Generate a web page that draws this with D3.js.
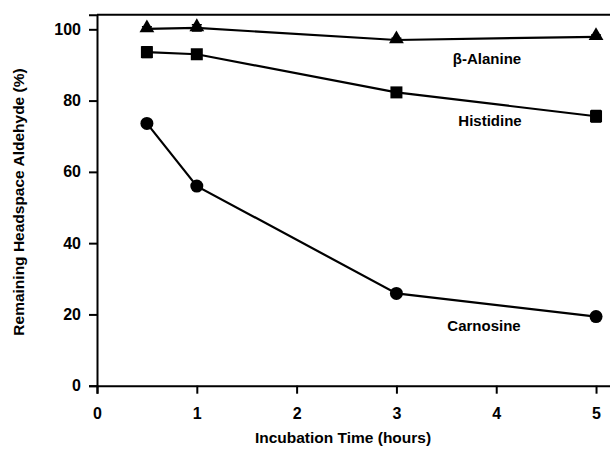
<!DOCTYPE html>
<html>
<head>
<meta charset="utf-8">
<script src="https://cdn.jsdelivr.net/npm/d3@7"></script>
<style>
body { margin: 0; background: #fff; }
text { font-family: "Liberation Sans", Arial, sans-serif; font-weight: bold; fill: #000; }
</style>
</head>
<body>
<div id="chart"></div>
<script>
var times = [0.5, 1, 3, 5];
var alanine = [100.1, 100.4, 97.0, 97.9];
var alanineErr = [0.6, 0.9, 0.5, 0.5];
var histidine = [93.6, 93.0, 82.3, 75.6];
var histidineErr = [1.5, 0.6, 0.6, 1.6];
var carnosine = [73.6, 56.0, 25.9, 19.4];
var carnosineErr = [0.5, 0.5, 0.5, 0.5];
var xTicks = [0, 1, 2, 3, 4, 5];
var yTicks = [0, 20, 40, 60, 80, 100];

var series = [
    {name: "\u03b2-Alanine", values: alanine, err: alanineErr, shape: "triangle", lx: 487, ly: 59},
    {name: "Histidine", values: histidine, err: histidineErr, shape: "square", lx: 490, ly: 121},
    {name: "Carnosine", values: carnosine, err: carnosineErr, shape: "circle", lx: 484, ly: 326}
];

var width = 610, height = 462;

var x = d3.scaleLinear().domain([0, 5.16]).range([97, 612]);
var y = d3.scaleLinear().domain([0, 104.1]).range([385.7, 14.7]);

var svg = d3.select("#chart").append("svg")
    .attr("width", width)
    .attr("height", height);

// frame: top and left edges (right edge falls off the picture)
svg.append("line")
    .attr("x1", x(0)).attr("x2", x(5.16))
    .attr("y1", y(104.1)).attr("y2", y(104.1))
    .attr("stroke", "#000").attr("stroke-width", 2);

var xAxis = svg.append("g")
    .attr("transform", "translate(0," + y(0) + ")")
    .call(d3.axisBottom(x).tickValues(xTicks).tickFormat(d3.format("d")).tickSize(8).tickPadding(14));

var yAxis = svg.append("g")
    .attr("transform", "translate(" + x(0) + ",0)")
    .call(d3.axisLeft(y).tickValues(yTicks).tickFormat(d3.format("d")).tickSize(8).tickPadding(8));

[xAxis, yAxis].forEach(function (g) {
    g.select(".domain").attr("stroke-width", 2);
    g.selectAll(".tick line").attr("stroke-width", 2);
    g.selectAll(".tick text").attr("font-size", 16).attr("font-family", "Liberation Sans, Arial, sans-serif").attr("font-weight", "bold");
});

var line = d3.line()
    .x(function (d, i) { return x(times[i]); })
    .y(function (d) { return y(d); });

var tri = d3.symbol().type(d3.symbolTriangle).size(95);

series.forEach(function (s) {
    svg.append("path")
        .datum(s.values)
        .attr("fill", "none")
        .attr("stroke", "#000")
        .attr("stroke-width", 2.2)
        .attr("d", line);

    var pts = svg.append("g").selectAll("g")
        .data(s.values)
        .enter().append("g")
        .attr("transform", function (d, i) {
            return "translate(" + x(times[i]) + "," + y(d) + ")";
        });

    // error bars
    pts.append("path")
        .attr("stroke", "#000")
        .attr("stroke-width", 1.5)
        .attr("fill", "none")
        .attr("d", function (d, i) {
            var up = y(d + s.err[i]) - y(d), dn = y(d - s.err[i]) - y(d);
            return "M-5," + up + "H5M0," + up + "V" + dn + "M-5," + dn + "H5";
        });

    if (s.shape === "circle") {
        pts.append("circle").attr("r", 6.5).attr("fill", "#000");
    } else if (s.shape === "square") {
        pts.append("rect").attr("x", -6).attr("y", -6).attr("width", 12).attr("height", 12).attr("fill", "#000");
    } else {
        pts.append("path").attr("d", tri).attr("transform", "translate(0,-1)").attr("fill", "#000");
    }

    svg.append("text")
        .attr("x", s.lx)
        .attr("y", s.ly)
        .attr("dy", "0.35em")
        .attr("text-anchor", "middle")
        .attr("font-size", 15)
        .text(s.name);
});

svg.append("text")
    .attr("x", 343)
    .attr("y", 438)
    .attr("dy", "0.35em")
    .attr("text-anchor", "middle")
    .attr("font-size", 15.5)
    .text("Incubation Time (hours)");

svg.append("text")
    .attr("transform", "translate(19,202) rotate(-90)")
    .attr("dy", "0.35em")
    .attr("text-anchor", "middle")
    .attr("font-size", 15.5)
    .text("Remaining Headspace Aldehyde (%)");
</script>
</body>
</html>
